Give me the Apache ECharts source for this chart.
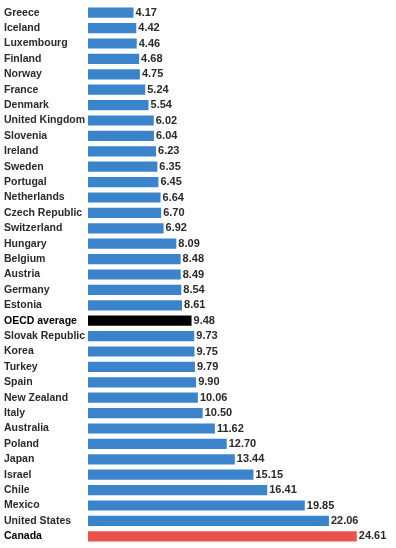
<!DOCTYPE html>
<html><head><meta charset="utf-8">
<script src="https://cdn.jsdelivr.net/npm/echarts@6/dist/echarts.min.js"></script>
<style>html,body{margin:0;padding:0;background:#fff}#c{width:396px;height:548px}</style>
</head><body><div id="c"></div>
<script>
var categories = ["Greece","Iceland","Luxembourg","Finland","Norway","France","Denmark","United Kingdom","Slovenia","Ireland","Sweden","Portugal","Netherlands","Czech Republic","Switzerland","Hungary","Belgium","Austria","Germany","Estonia","OECD average","Slovak Republic","Korea","Turkey","Spain","New Zealand","Italy","Australia","Poland","Japan","Israel","Chile","Mexico","United States","Canada"];
var values = [4.17,4.42,4.46,4.68,4.75,5.24,5.54,6.02,6.04,6.23,6.35,6.45,6.64,6.70,6.92,8.09,8.48,8.49,8.54,8.61,9.48,9.73,9.75,9.79,9.90,10.06,10.50,11.62,12.70,13.44,15.15,16.41,19.85,22.06,24.61];
var highlight = {"OECD average":"#000000","Canada":"#e8534b"};
var chart = echarts.init(document.getElementById('c'));
var font = "'Liberation Sans',Arial,sans-serif";
chart.setOption({
  animation:false,
  grid:{left:88,right:0,top:5,bottom:4,containLabel:false},
  xAxis:{type:'value',min:0,max:28.2,show:false},
  yAxis:{type:'category',inverse:true,data:categories,
    axisLine:{show:false},axisTick:{show:false},
    axisLabel:{interval:0,align:'left',margin:84,fontFamily:font,fontSize:10.5,color:'#2a2a2a',fontWeight:'bold',
      formatter:function(v){return (v==='OECD average'||v==='Canada')?'{b|'+v+'}':v;},
      rich:{b:{fontFamily:font,fontSize:10.5,fontWeight:'900',color:'#000'}}}},
  series:[{type:'bar',barCategoryGap:'34%',
    data:categories.map(function(c,i){return {value:values[i],itemStyle:{color:highlight[c]||'#3b84cc'}};}),
    label:{show:true,position:'right',distance:2,fontFamily:font,fontSize:11,color:'#2a2a2a',fontWeight:'bold',
      formatter:function(p){return p.value.toFixed(2);}}
  }]
});
</script></body></html>
